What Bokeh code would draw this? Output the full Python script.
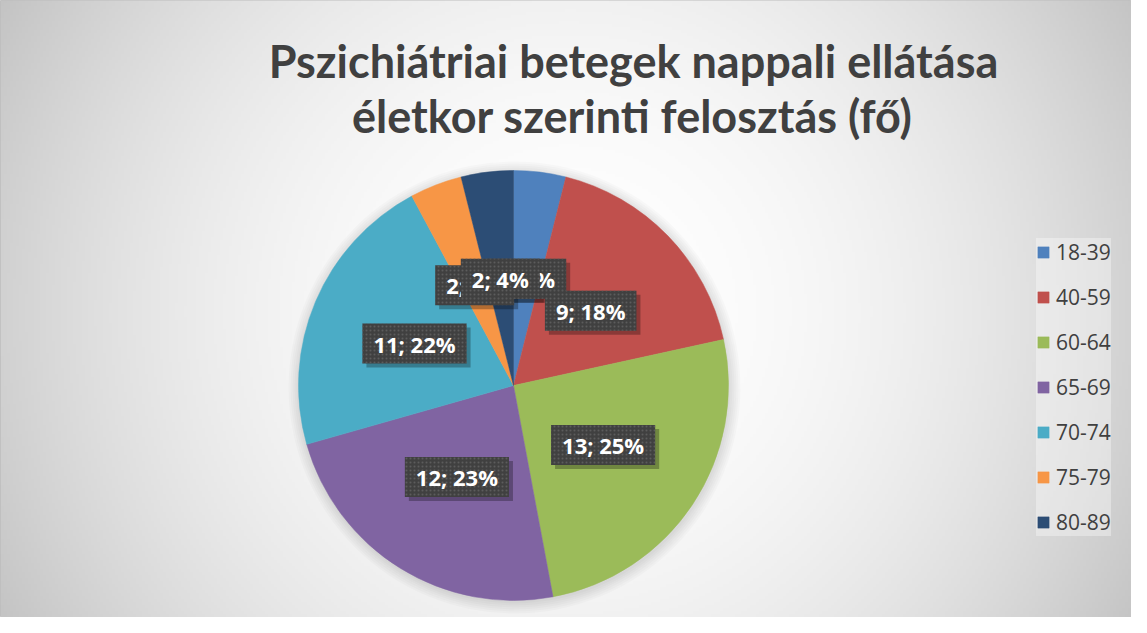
import numpy as np
from bokeh.plotting import figure
from bokeh.models import ColumnDataSource, Range1d, Legend, LegendItem
from bokeh.core.properties import value
from bokeh.embed import file_html
from bokeh.resources import INLINE

# ---- data ----
categories = ["18-39", "40-59", "60-64", "65-69", "70-74", "75-79", "80-89"]
counts = [2, 9, 13, 12, 11, 2, 2]
percents = [4, 18, 25, 23, 22, 4, 4]
colors = ["#4F81BD", "#C0504D", "#9BBB59", "#8064A2", "#4BACC6", "#F79646", "#2C4D75"]
title_lines = ["Pszichiátriai betegek nappali ellátása", "életkor szerinti felosztás (fő)"]

W, H = 1131, 617
p = figure(width=W, height=H, x_range=Range1d(0, W), y_range=Range1d(0, H),
           output_backend="svg", toolbar_location=None,
           x_axis_type=None, y_axis_type=None, min_border=0,
           outline_line_color="#bdbdbd")
p.background_fill_color = "#e6e6e6"
p.border_fill_color = "white"

# ---- background radial gradient ----
step = 3
sw, sh = W // step + 1, H // step + 1
xs = (np.arange(sw) + 0.5) * step
ys = (np.arange(sh) + 0.5) * step
X, Y = np.meshgrid(xs, ys)
gcx, gcy = 569, 305
t = np.sqrt((X - gcx) ** 2 + (Y - gcy) ** 2) / 650.0
g = np.clip(255 - 60 * t ** 2, 0, 255).astype(np.uint8)
img = np.empty((sh, sw), dtype=np.uint32)
view = img.view(dtype=np.uint8).reshape((sh, sw, 4))
view[..., 0] = g
view[..., 1] = g
view[..., 2] = g
view[..., 3] = 255
p.image_rgba(image=[img], x=0, y=0, dw=sw * step, dh=sh * step)

# ---- pie geometry ----
cx, cy, R = 513, 232, 215
vals = np.array(counts, dtype=float)
frac = vals / vals.sum()
c1 = np.cumsum(frac)
c0 = c1 - frac
start = np.pi / 2 - 2 * np.pi * c1
end = np.pi / 2 - 2 * np.pi * c0
mid = 2 * np.pi * (c0 + c1) / 2

# soft shadow around pie
for dr in [1, 3, 5, 7, 9, 11]:
    p.circle(x=[cx + 1], y=[cy - 2], radius=R + dr, fill_color="black",
             fill_alpha=0.018, line_color=None)

src = ColumnDataSource(dict(cat=categories, start=start, end=end, color=colors))
wr = p.wedge(x=cx, y=cy, radius=R, start_angle="start", end_angle="end",
             fill_color="color", line_color="color", line_width=0.5, source=src)

# ---- data labels ----
lx = cx + 0.5 * R * np.sin(mid)
ly = cy + 0.5 * R * np.cos(mid)
labels = [f"{c}; {q}%" for c, q in zip(counts, percents)]
lsrc = ColumnDataSource(dict(x=lx, y=ly, text=labels))
pad = dict(left=11, right=11, top=5, bottom=5)
p.text(x="x", y="y", text="text", source=lsrc, x_offset=4, y_offset=4,
       text_alpha=0, text_font=value("Open Sans"), text_font_style="bold",
       text_font_size="22px", text_align="center", text_baseline="middle",
       background_fill_color="black", background_fill_alpha=0.28, padding=pad)
p.text(x="x", y="y", text="text", source=lsrc, text_color="white",
       text_font=value("Open Sans"), text_font_style="bold",
       text_font_size="22px", text_align="center", text_baseline="middle",
       background_fill_color="#404040", background_hatch_pattern="dot",
       background_hatch_color="#5c5c5c", background_hatch_scale=4,
       background_hatch_weight=1, padding=pad)

# ---- title ----
p.text(x=[633, 632], y=[557, 502], text=title_lines,
       text_font=value("Lato"), text_font_style="bold",
       text_font_size="45px", text_color="#404040", text_align="center",
       text_baseline="alphabetic")

# ---- legend ----
items = [LegendItem(label=c, renderers=[wr], index=i) for i, c in enumerate(categories)]
legend = Legend(items=items, location=(1036, 81), orientation="vertical",
                glyph_width=14, glyph_height=14, label_standoff=6,
                label_text_font="Open Sans", label_text_font_size="21px",
                label_text_color="#404040", spacing=17, padding=10,
                margin=0, background_fill_color="white",
                background_fill_alpha=0.35, border_line_color=None)
p.add_layout(legend)

open("out.html", "w").write(file_html(p, INLINE))
